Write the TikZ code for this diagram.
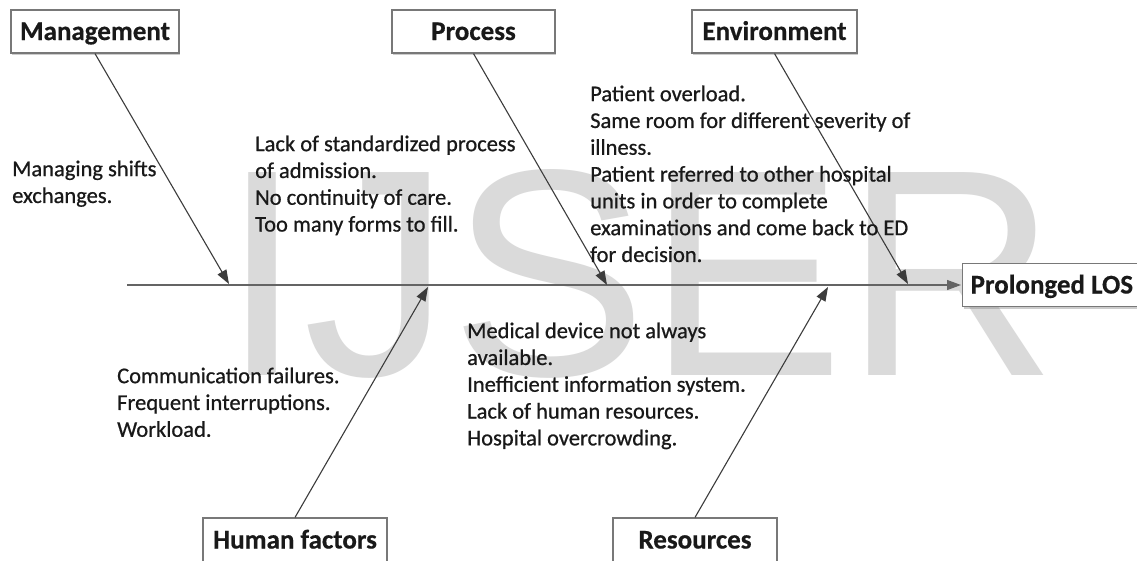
\documentclass[tikz,border=0pt]{standalone}
\usepackage{fontspec}
\setmainfont{Carlito}
\newfontfamily\markfont{Liberation Sans}
\newfontfamily\causefont{Carlito}[RawFeature={embolden=0.7}]
\newfontfamily\labelfont{Carlito Bold}[RawFeature={embolden=0.5}]
\usetikzlibrary{arrows.meta,shadows}

\definecolor{markgray}{RGB}{218,218,218}
\definecolor{bonecol}{RGB}{60,60,60}
\definecolor{spinecol}{RGB}{100,100,100}
\definecolor{framecol}{RGB}{120,120,120}
\definecolor{inkcol}{RGB}{25,25,25}

\begin{document}
\begin{tikzpicture}[x=1pt,y=-1pt,
  catbox/.style={draw=framecol, line width=1.2pt, fill=white, minimum height=43pt,
    inner sep=0pt, text=inkcol, text height=20pt, text depth=3pt,
    font=\labelfont\fontsize{27}{32}\selectfont,
    drop shadow={shadow xshift=1pt, shadow yshift=-2pt, opacity=0.4, fill=gray}},
  causes/.style={anchor=north west, inner sep=0pt, align=left, text=inkcol,
    font=\causefont\fontsize{22.5}{26.8}\selectfont},
  bone/.style={draw=bonecol, line width=1.1pt, -{Triangle[length=14pt,width=10pt]}},
  spine/.style={draw=spinecol, line width=1.2pt, -{Triangle[length=14pt,width=10pt]}},
]
\clip (0,0) rectangle (1137,560);
\fill[white] (0,0) rectangle (1137,560);

% watermark lettering behind the diagram
\node[anchor=base west, inner sep=0pt, text=markgray,
  font=\markfont\fontsize{295}{295}\selectfont] (mark) at (221,375) {IJSER};

% category boxes
\node[catbox, minimum width=168pt] (mgt) at (95,31.5) {Management};
\node[catbox, minimum width=163pt] (proc) at (473.5,31.5) {Process};
\node[catbox, minimum width=165pt] (env) at (774.5,31.5) {Environment};
\node[catbox, minimum width=184pt, minimum height=44pt] (hum) at (295,540) {Human factors};
\node[catbox, minimum width=164pt, minimum height=44pt] (res) at (695,540) {Resources};
\node[catbox, anchor=west, inner xsep=8pt] (los) at (962,285) {Prolonged LOS};

% spine and bone end points
\coordinate (tail) at (127,285);
\coordinate (mgtTip) at (229,284);
\coordinate (humTip) at (428,287);
\coordinate (procTip) at (607,285);
\coordinate (resTip) at (828,287);
\coordinate (envTip) at (908,284);

\draw[spine, shorten >=1pt] (tail) -- (los.west);
\draw[bone] (mgt.south) -- (mgtTip);
\draw[bone] (proc.south) -- (procTip);
\draw[bone] (env.south) -- (envTip);
\draw[bone] (hum.north) -- (humTip);
\draw[bone] (res.north) -- (resTip);

% cause lists
\node[causes] (mgtCauses) at (12,157.2) {\strut Managing shifts\\exchanges.};
\node[causes] (procCauses) at (255,132.2) {\strut Lack of standardized process\\of admission.\\No continuity of care.\\Too many forms to fill.};
\node[causes] (envCauses) at (590,82.2) {\strut Patient overload.\\Same room for different severity of\\illness.\\Patient referred to other hospital\\units in order to complete\\examinations and come back to ED\\for decision.};
\node[causes] (humCauses) at (117,364.2) {\strut Communication failures.\\Frequent interruptions.\\Workload.};
\node[causes] (resCauses) at (467,319.2) {\strut Medical device not always\\available.\\Inefficient information system.\\Lack of human resources.\\Hospital overcrowding.};
\end{tikzpicture}
\end{document}
